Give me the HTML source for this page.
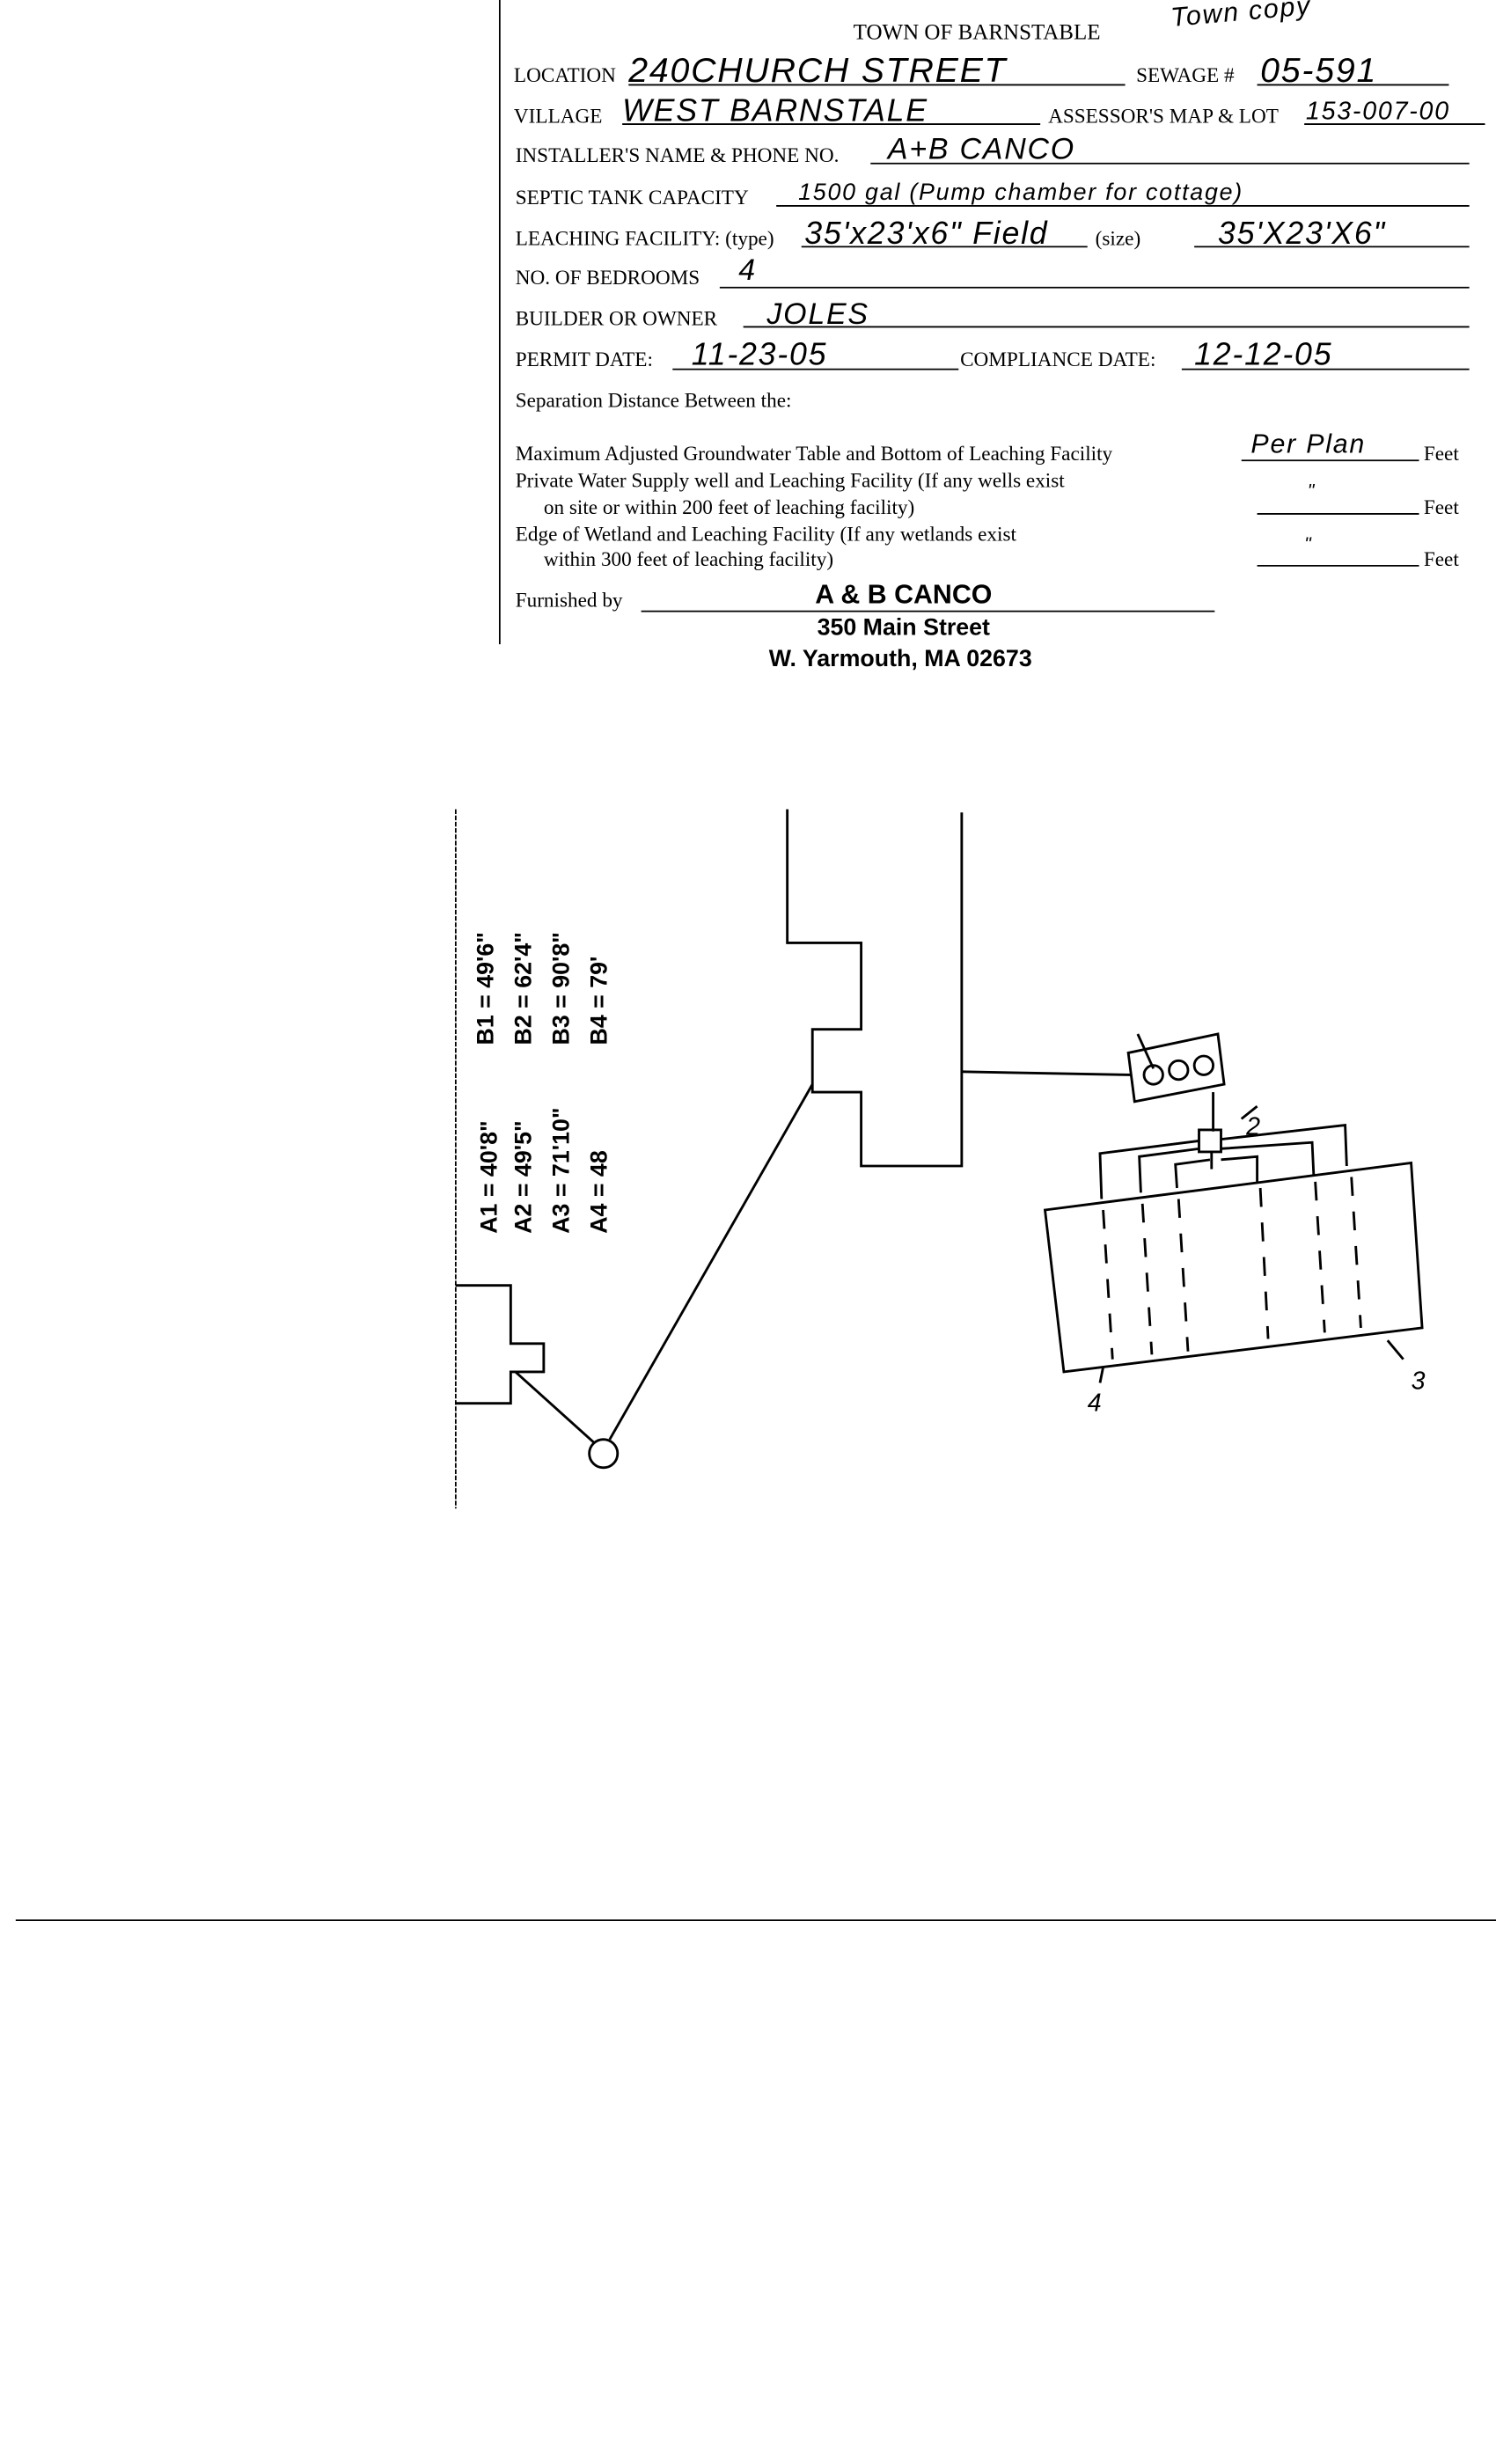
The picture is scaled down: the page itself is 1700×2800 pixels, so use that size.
<!DOCTYPE html>
<html><head><meta charset="utf-8"><style>
html,body{margin:0;padding:0;background:#fff}
svg{display:block}
.f{font-family:"Liberation Serif",serif;font-size:13px;fill:#000}
.h{font-family:"Liberation Sans",sans-serif;font-size:19px;fill:#000;font-style:italic;letter-spacing:1px}
.b{font-family:"Liberation Sans",sans-serif;font-weight:bold;fill:#000}
.d{font-family:"Liberation Sans",sans-serif;font-weight:bold;font-size:15px;fill:#000}
</style></head><body>
<svg width="1700" height="2800" viewBox="0 0 952 1568" xmlns="http://www.w3.org/2000/svg">
<rect width="952" height="1568" fill="#fff"/>
<g stroke="#000" stroke-width="1" fill="none">
<line x1="318" y1="0" x2="318" y2="410"/>
<line x1="290" y1="515" x2="290" y2="960" stroke-dasharray="3,1"/>
<line x1="10" y1="1222" x2="952" y2="1222"/>
<!-- underlines -->
<line x1="400" y1="54" x2="716" y2="54"/><line x1="800" y1="54" x2="922" y2="54"/>
<line x1="396" y1="79" x2="662" y2="79"/><line x1="830" y1="79" x2="945" y2="79"/>
<line x1="554" y1="104" x2="935" y2="104"/>
<line x1="494" y1="131" x2="935" y2="131"/>
<line x1="510" y1="157" x2="692" y2="157"/><line x1="760" y1="157" x2="935" y2="157"/>
<line x1="458" y1="183" x2="935" y2="183"/>
<line x1="473" y1="208" x2="935" y2="208"/>
<line x1="428" y1="235" x2="610" y2="235"/><line x1="752" y1="235" x2="935" y2="235"/>
<line x1="790" y1="293" x2="903" y2="293"/>
<line x1="800" y1="327" x2="903" y2="327"/>
<line x1="800" y1="360" x2="903" y2="360"/>
<line x1="408" y1="389" x2="773" y2="389"/>
</g>
<text class="f" x="543" y="25" style="font-size:14px">TOWN OF BARNSTABLE</text>
<text class="h" x="745" y="12" transform="rotate(-5 800 8)" style="font-size:17px">Town copy</text>
<text class="f" x="327" y="52">LOCATION</text><text class="h" x="400" y="52" style="font-size:22px">240CHURCH STREET</text>
<text class="f" x="723" y="52">SEWAGE #</text><text class="h" x="802" y="52" style="font-size:22px">05-591</text>
<text class="f" x="327" y="78">VILLAGE</text><text class="h" x="396" y="77" style="font-size:20px">WEST BARNSTALE</text>
<text class="f" x="667" y="78">ASSESSOR'S MAP &amp; LOT</text><text class="h" x="831" y="76" style="font-size:16px">153-007-00</text>
<text class="f" x="328" y="103">INSTALLER'S NAME &amp; PHONE NO.</text><text class="h" x="565" y="101">A+B CANCO</text>
<text class="f" x="328" y="130">SEPTIC TANK CAPACITY</text><text class="h" x="508" y="127" style="font-size:15px">1500 gal    (Pump chamber for cottage)</text>
<text class="f" x="328" y="156">LEACHING FACILITY: (type)</text><text class="h" x="512" y="155" style="font-size:20px">35'x23'x6" Field</text>
<text class="f" x="697" y="156">(size)</text><text class="h" x="775" y="155" style="font-size:20px">35'X23'X6"</text>
<text class="f" x="328" y="181">NO. OF BEDROOMS</text><text class="h" x="470" y="178">4</text>
<text class="f" x="328" y="207">BUILDER OR OWNER</text><text class="h" x="488" y="206">JOLES</text>
<text class="f" x="328" y="233">PERMIT DATE:</text><text class="h" x="440" y="232" style="font-size:20px">11-23-05</text>
<text class="f" x="611" y="233">COMPLIANCE DATE:</text><text class="h" x="760" y="232" style="font-size:20px">12-12-05</text>
<text class="f" x="328" y="259">Separation Distance Between the:</text>
<text class="f" x="328" y="293">Maximum Adjusted Groundwater Table and Bottom of Leaching Facility</text>
<text class="h" x="796" y="288" style="font-size:17px">Per Plan</text><text class="f" x="906" y="293">Feet</text>
<text class="f" x="328" y="310">Private Water Supply well and Leaching Facility  (If any wells exist</text>
<text class="f" x="346" y="327">on site or within 200 feet of leaching facility)</text>
<text class="h" x="832" y="316" style="font-size:12px">"</text><text class="f" x="906" y="327">Feet</text>
<text class="f" x="328" y="344">Edge of Wetland and Leaching Facility (If any wetlands exist</text>
<text class="f" x="346" y="360">within 300 feet of leaching facility)</text>
<text class="h" x="830" y="350" style="font-size:12px">"</text><text class="f" x="906" y="360">Feet</text>
<text class="f" x="328" y="386">Furnished by</text>
<text class="b" x="575" y="384" text-anchor="middle" style="font-size:17px">A &amp; B CANCO</text>
<text class="b" x="575" y="404" text-anchor="middle" style="font-size:15px">350 Main Street</text>
<text class="b" x="573" y="424" text-anchor="middle" style="font-size:15px">W. Yarmouth, MA 02673</text>
<!-- diagram -->
<g stroke="#000" stroke-width="1.6" fill="none">
<polyline points="501,515 501,600 548,600 548,655 517,655 517,695 548,695 548,742 612,742 612,517"/>
<line x1="612" y1="682" x2="720" y2="684"/>
<polygon points="718,670 775,658 779,690 722,701"/>
<circle cx="734" cy="684" r="6"/><circle cx="750" cy="681" r="6"/><circle cx="766" cy="678" r="6"/>
<line x1="724" y1="658" x2="734" y2="680"/>
<line x1="772" y1="695" x2="772" y2="720"/>
<rect x="763" y="719" width="14" height="14"/>
<polyline points="763,726 700,734 701,763"/>
<polyline points="777,725 856,716 857,742"/>
<polyline points="763,731 725,736 726,759"/>
<polyline points="777,731 835,727 836,748"/>
<polyline points="770,738 748,741 749,756"/>
<polyline points="777,738 800,736 800,752"/>
<polygon points="665,770 898,740 905,845 677,873"/>
<line x1="771" y1="733" x2="771" y2="744"/>
<polyline points="290,818 325,818 325,855 346,855 346,873 325,873 325,893 290,893"/>
<line x1="328" y1="873" x2="378" y2="918"/>
<circle cx="384" cy="925" r="9"/>
<line x1="388" y1="916" x2="517" y2="690"/>
<line x1="790" y1="712" x2="800" y2="704"/>
<line x1="883" y1="853" x2="893" y2="865"/>
<line x1="700" y1="880" x2="702" y2="870"/>
</g>
<g stroke="#000" stroke-width="1.6" stroke-dasharray="12,10">
<line x1="702" y1="770" x2="708" y2="865"/>
<line x1="727" y1="766" x2="733" y2="862"/>
<line x1="750" y1="763" x2="756" y2="860"/>
<line x1="802" y1="756" x2="807" y2="852"/>
<line x1="837" y1="752" x2="843" y2="848"/>
<line x1="860" y1="749" x2="866" y2="845"/>
</g>
<text class="h" x="793" y="722" style="font-size:16px">2</text>
<text class="h" x="898" y="884" style="font-size:16px">3</text>
<text class="h" x="692" y="898" style="font-size:16px">4</text>
<g class="d">
<text x="0" y="0" transform="translate(316,785) rotate(-90)">A1 = 40'8"</text>
<text x="0" y="0" transform="translate(338,785) rotate(-90)">A2 = 49'5"</text>
<text x="0" y="0" transform="translate(362,785) rotate(-90)">A3 = 71'10"</text>
<text x="0" y="0" transform="translate(386,785) rotate(-90)">A4 = 48</text>
<text x="0" y="0" transform="translate(314,665) rotate(-90)">B1 = 49'6"</text>
<text x="0" y="0" transform="translate(338,665) rotate(-90)">B2 = 62'4"</text>
<text x="0" y="0" transform="translate(362,665) rotate(-90)">B3 = 90'8"</text>
<text x="0" y="0" transform="translate(386,665) rotate(-90)">B4 = 79'</text>
</g>
</svg>
</body></html>
